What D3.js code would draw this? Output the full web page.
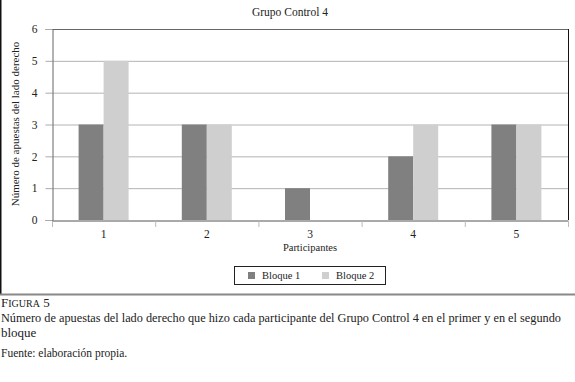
<!DOCTYPE html>
<html><head><meta charset="utf-8">
<script src="https://cdn.jsdelivr.net/npm/d3@7"></script>
<style>body{margin:0;background:#fff}svg{display:block}</style>
</head><body><svg id="c" width="575" height="382"></svg>
<script>
const participants = ["1","2","3","4","5"];
const series = ["Bloque 1","Bloque 2"];
const bloque1 = [3,3,1,2,3];
const bloque2 = [5,3,0,3,3];
const yTicks = [0,1,2,3,4,5,6];
const colors = ["#808080","#cfcfcf"];
const FF = "'Liberation Serif', 'Times New Roman', serif";

const svg = d3.select("#c");
const L=52, R=568, T=29, B=220;
const x0 = d3.scaleBand().domain(participants).range([L,R]).padding(0);
const x1 = d3.scaleBand().domain(series).range([0,50]).padding(0);
const y = d3.scaleLinear().domain([0,6]).range([B,T]);

function txt(sel){ return sel.append("text").attr("font-family",FF).attr("fill","#222"); }

// outer frame
svg.append("line").attr("x1",0.5).attr("x2",0.5).attr("y1",0).attr("y2",294).attr("stroke","#111").attr("stroke-width",2);
svg.append("line").attr("x1",0).attr("x2",575).attr("y1",294.5).attr("y2",294.5).attr("stroke","#888").attr("stroke-width",2);

// title
txt(svg).attr("x",290).attr("y",16).attr("text-anchor","middle").attr("font-size","11.5px").text("Grupo Control 4");

// gridlines
svg.append("g").selectAll("line").data(yTicks.filter(d=>d>0&&d<6)).join("line")
  .attr("x1",L).attr("x2",R).attr("y1",d=>y(d)+0.5).attr("y2",d=>y(d)+0.5).attr("stroke","#b4b4b4");

// bars
const data = participants.map((p,i)=>({p, vals:[bloque1[i],bloque2[i]]}));
const g = svg.append("g").selectAll("g").data(data).join("g")
  .attr("transform",d=>`translate(${x0(d.p)+x0.bandwidth()/2-25},0)`);
g.selectAll("rect").data(d=>d.vals.map((v,j)=>({s:series[j],v,j}))).join("rect")
  .attr("x",d=>x1(d.s)).attr("width",x1.bandwidth())
  .attr("y",d=>y(d.v)).attr("height",d=>y(0)-y(d.v)).attr("fill",d=>colors[d.j]);

// plot border top/right
svg.append("line").attr("x1",L).attr("x2",R).attr("y1",T+0.5).attr("y2",T+0.5).attr("stroke","#666");
svg.append("line").attr("x1",R+0.5).attr("x2",R+0.5).attr("y1",T).attr("y2",B).attr("stroke","#111");

// y axis
const yAxis = d3.axisLeft(y).tickValues(yTicks).tickSize(7).tickPadding(8).tickFormat(d3.format("d"));
const ya = svg.append("g").attr("transform",`translate(${L+0.5},0)`).call(yAxis).attr("font-family",FF);
ya.select(".domain").attr("stroke","#666");
ya.selectAll(".tick line").attr("stroke","#aaa");
ya.selectAll("text").attr("font-size","11.5px").attr("font-family",FF).attr("fill","#222");

// x axis
const xAxis = d3.axisBottom(x0).tickSize(0).tickPadding(9);
const xa = svg.append("g").attr("transform",`translate(0,${B+0.5})`).call(xAxis).attr("font-family",FF);
xa.select(".domain").attr("stroke","#555");
xa.selectAll("text").attr("font-size","11.5px").attr("font-family",FF).attr("fill","#222");
// boundary ticks
svg.append("g").selectAll("line").data(participants.concat(["end"])).join("line")
  .attr("x1",(d,i)=>i<5?x0(d)+0.5:R+0.5).attr("x2",(d,i)=>i<5?x0(d)+0.5:R+0.5)
  .attr("y1",B+1).attr("y2",B+7).attr("stroke","#bbb");

// axis labels
txt(svg).attr("transform","translate(19,124) rotate(-90)").attr("text-anchor","middle").attr("font-size","11px").text("Número de apuestas del lado derecho");
txt(svg).attr("x",310).attr("y",251).attr("text-anchor","middle").attr("font-size","10.5px").text("Participantes");

// legend
svg.append("rect").attr("x",234.5).attr("y",266.5).attr("width",151).attr("height",18).attr("fill","#fff").attr("stroke","#222");
const lg = svg.append("g").selectAll("g").data(series).join("g").attr("transform",(d,i)=>`translate(${i?322:248},272)`);
lg.append("rect").attr("width",7).attr("height",7).attr("fill",(d,i)=>colors[i]);
lg.append("text").attr("font-family",FF).attr("fill","#222").attr("x",14).attr("y",7).attr("font-size","10.5px").text(d=>d);

// caption
const cap = txt(svg).attr("x",1).attr("y",307).attr("font-size","13px");
cap.append("tspan").text("F");
cap.append("tspan").attr("font-size","10px").text("IGURA");
cap.append("tspan").text(" 5");
txt(svg).attr("x",1).attr("y",322).attr("font-size","12.5px").attr("textLength",560).attr("lengthAdjust","spacingAndGlyphs").text("Número de apuestas del lado derecho que hizo cada participante del Grupo Control 4 en el primer y en el segundo");
txt(svg).attr("x",1).attr("y",337).attr("font-size","13px").text("bloque");
txt(svg).attr("x",1).attr("y",357).attr("font-size","11.5px").text("Fuente: elaboración propia.");
</script></body></html>
